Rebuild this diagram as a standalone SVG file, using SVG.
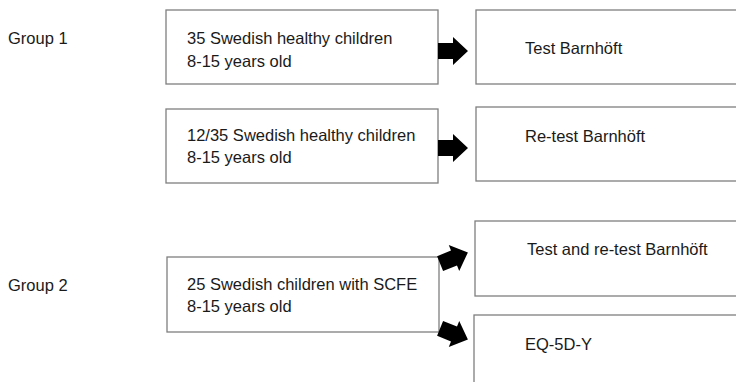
<svg xmlns="http://www.w3.org/2000/svg" width="736" height="382" viewBox="0 0 736 382">
<defs>
<style>
.box{fill:#fff;stroke:#7f7f7f;stroke-width:1.3}
.t{font-family:"Liberation Sans",Arial,sans-serif;font-size:16.5px;fill:#1a1a1a}
.arr{fill:#000}
</style>
<path id="blk" d="M-15,-8 L0,-8 L0,-14 L15,0 L0,14 L0,8 L-15,8 Z"/>
</defs>
<rect width="736" height="382" fill="#fff"/>
<g id="group1-label"><text class="t" x="8" y="44">Group 1</text></g>
<g id="group2-label"><text class="t" x="8" y="291">Group 2</text></g>
<g id="n1">
<rect class="box" x="166" y="10" width="272" height="74"/>
<text class="t" x="187" y="44">35 Swedish healthy children</text>
<text class="t" x="187" y="67">8-15 years old</text>
</g>
<g id="n2">
<rect class="box" x="166" y="109" width="272" height="74"/>
<text class="t" x="187" y="141">12/35 Swedish healthy children</text>
<text class="t" x="187" y="163">8-15 years old</text>
</g>
<g id="n3">
<rect class="box" x="167" y="257" width="272" height="75"/>
<text class="t" x="187" y="290">25 Swedish children with SCFE</text>
<text class="t" x="187" y="312">8-15 years old</text>
</g>
<g id="n4">
<rect class="box" x="476" y="10" width="270" height="74"/>
<text class="t" x="525" y="54">Test Barnhöft</text>
</g>
<g id="n5">
<rect class="box" x="476" y="107" width="270" height="74"/>
<text class="t" x="525" y="142">Re-test Barnhöft</text>
</g>
<g id="n6">
<rect class="box" x="475" y="221" width="271" height="75"/>
<text class="t" x="527" y="255">Test and re-test Barnhöft</text>
</g>
<g id="n7">
<rect class="box" x="474" y="315" width="272" height="80"/>
<text class="t" x="525" y="350">EQ-5D-Y</text>
</g>
<g id="connectors" class="arr">
<use href="#blk" transform="translate(453,51)"/>
<use href="#blk" transform="translate(453,148)"/>
<use href="#blk" transform="translate(454,258) rotate(-22)"/>
<use href="#blk" transform="translate(454,334) rotate(22)"/>
</g>
</svg>
